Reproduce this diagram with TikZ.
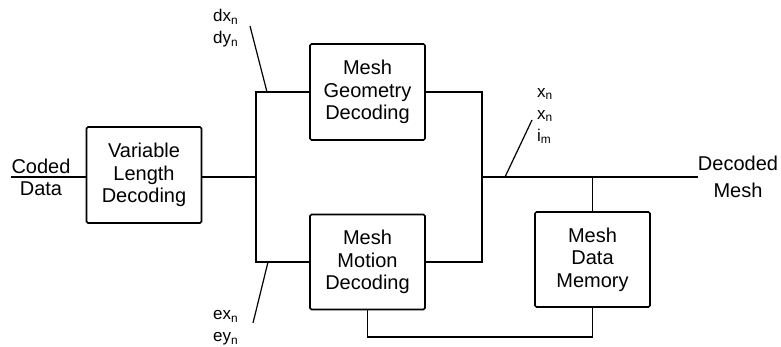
\documentclass[tikz,border=0pt]{standalone}
\usepackage{fontspec}
\setmainfont{Liberation Sans}
\usetikzlibrary{positioning,calc}

\begin{document}
\begin{tikzpicture}[
    x=1pt, y=-1pt,
    block/.style={rectangle, rounded corners=1.5pt, draw, line width=1.6pt, minimum width=115pt, minimum height=96pt, align=center, inner sep=0pt, font=\fontsize{20}{22.5}\selectfont},
    io/.style={align=center, inner sep=0pt},
    bus/.style={align=left, inner sep=0pt, anchor=west, font=\fontsize{17}{22}\selectfont},
    wire/.style={line width=1.6pt},
    tick/.style={line width=1.2pt},
]
\useasboundingbox (0,0) rectangle (781,347);

% Blocks
\node[block] (vld) at (144,175) {Variable\\Length\\Decoding};
\node[block] (geo) at (367.5,92) {Mesh\\Geometry\\Decoding};
\node[block, minimum height=95pt] (mot) at (367.5,262) {Mesh\\Motion\\Decoding};
\node[block, minimum height=95pt] (mem) at (592.5,259.5) {Mesh\\Data\\Memory};

% Input and output
\node[io, font=\fontsize{20}{22}\selectfont] (coded) at (41,177) {Coded\\Data};
\node[io, font=\fontsize{20}{27}\selectfont] (decoded) at (738,177) {Decoded\\Mesh};

% Junctions
\coordinate (split) at (256,177);
\coordinate (merge) at (482,177);
\coordinate (ret) at (0,337);

% Wires
\draw[wire] (coded.west) -- (vld.west |- coded.west);
\draw[wire] (vld.east |- split) -- (split);
\draw[wire] (geo.west) -| (split) |- (mot.west);
\draw[wire] (geo.east) -| (merge) |- (mot.east);
\draw[wire] (merge) -- (decoded.west);
\draw[wire] (mem.north) -- (mem.north |- merge);
\draw[wire] (mot.south) -- (mot.south |- ret) -| (mem.south);

% Bus labels
\node[bus] (dxy) at (213,28.6) {dx\textsubscript{n}\\dy\textsubscript{n}};
\node[bus] (exy) at (213,328) {ex\textsubscript{n}\\ey\textsubscript{n}};
\node[bus] (xxi) at (537,116) {x\textsubscript{n}\\x\textsubscript{n}\\i\textsubscript{m}};

% Bus ticks
\draw[tick] (250,26) -- (267,92);
\draw[tick] (268,262) -- (253,323);
\draw[tick] (505,177) -- (532,120);

\end{tikzpicture}
\end{document}
